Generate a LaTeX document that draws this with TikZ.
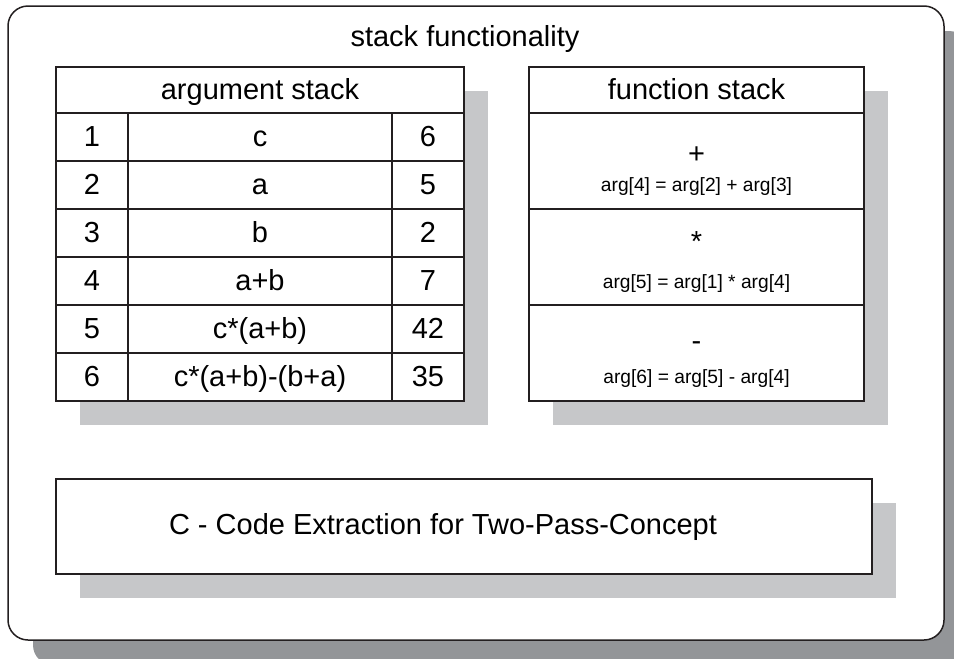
\documentclass[tikz,border=0pt]{standalone}
\usepackage{fontspec}
\setmainfont{Liberation Sans}
\usetikzlibrary{positioning,shadows}

\definecolor{linegray}{HTML}{231F20}
\definecolor{shadowdark}{HTML}{939598}
\definecolor{shadowlight}{HTML}{C6C7C9}

\newcommand{\mainsize}{\fontsize{14.5}{17}\selectfont}
\newcommand{\argsize}{\fontsize{9.6}{11}\selectfont}

\tikzset{basic/.style={draw=linegray,fill=white,line width=0.75pt,inner sep=0pt,outer sep=0pt}}
\tikzset{panel/.style={basic,rounded corners=10pt,minimum width=468pt,minimum height=317pt,drop shadow={shadow xshift=12.5pt,shadow yshift=-12.5pt,fill=shadowdark,opacity=1}}}
\tikzset{stackbox/.style={basic,anchor=north west,drop shadow={shadow xshift=12pt,shadow yshift=-12pt,fill=shadowlight,opacity=1}}}
\tikzset{tabcell/.style={basic,font=\mainsize,text height=13pt,text depth=3.4pt}}
\tikzset{headcell/.style={tabcell,minimum height=23pt}}
\tikzset{numcell/.style={tabcell,minimum width=36pt,minimum height=24pt}}
\tikzset{exprcell/.style={tabcell,minimum width=132pt,minimum height=24pt}}
\tikzset{funccell/.style={basic,minimum width=167.5pt,minimum height=48pt}}
\tikzset{op/.style={font=\mainsize,anchor=base}}
\tikzset{formula/.style={font=\argsize,anchor=base}}

\begin{document}
\begin{tikzpicture}
	\useasboundingbox (0,0) rectangle (477pt,-329.5pt);

	\node[panel,anchor=north west] (outer) at (4pt,-3pt) {};
	\node[font=\mainsize] (title) at (232.5pt,-19.5pt) {stack functionality};

	% argument stack
	\node[stackbox,minimum width=204pt,minimum height=167pt] (astack) at (28pt,-33.5pt) {};
	\node[headcell,minimum width=204pt,below right=0pt and 0pt of astack.north west] (ahead) {argument stack};
	\node[numcell,below right=0pt and 0pt of ahead.south west] (n1) {1};
	    \node[exprcell,right=0pt of n1] (e1) {c};
	    \node[numcell,right=0pt of e1] (v1) {6};
	\node[numcell,below=0pt of n1] (n2) {2};
	    \node[exprcell,right=0pt of n2] (e2) {a};
	    \node[numcell,right=0pt of e2] (v2) {5};
	\node[numcell,below=0pt of n2] (n3) {3};
	    \node[exprcell,right=0pt of n3] (e3) {b};
	    \node[numcell,right=0pt of e3] (v3) {2};
	\node[numcell,below=0pt of n3] (n4) {4};
	    \node[exprcell,right=0pt of n4] (e4) {a+b};
	    \node[numcell,right=0pt of e4] (v4) {7};
	\node[numcell,below=0pt of n4] (n5) {5};
	    \node[exprcell,right=0pt of n5] (e5) {c*(a+b)};
	    \node[numcell,right=0pt of e5] (v5) {42};
	\node[numcell,below=0pt of n5] (n6) {6};
	    \node[exprcell,right=0pt of n6] (e6) {c*(a+b)-(b+a)};
	    \node[numcell,right=0pt of e6] (v6) {35};

	% function stack
	\node[stackbox,minimum width=167.5pt,minimum height=167pt] (fstack) at (264.5pt,-33.5pt) {};
	\node[headcell,minimum width=167.5pt,below right=0pt and 0pt of fstack.north west] (fhead) {function stack};
	\node[funccell,below=0pt of fhead] (f1) {};
	    \node[op] (op1) at ([yshift=-25pt]f1.north) {+};
	    \node[formula] (arg1) at ([yshift=-39pt]f1.north) {arg[4] = arg[2] + arg[3]};
	\node[funccell,below=0pt of f1] (f2) {};
	    \node[op] (op2) at ([yshift=-21pt]f2.north) {*};
	    \node[formula] (arg2) at ([yshift=-39.5pt]f2.north) {arg[5] = arg[1] * arg[4]};
	\node[funccell,below=0pt of f2] (f3) {};
	    \node[op] (op3) at ([yshift=-22.5pt]f3.north) {-};
	    \node[formula] (arg3) at ([yshift=-39pt]f3.north) {arg[6] = arg[5] - arg[4]};

	% code extraction
	\node[stackbox,minimum width=408pt,minimum height=47.5pt] (codex) at (28pt,-239.5pt) {};
	\node[font=\mainsize] (codetext) at ([xshift=-10.5pt]codex.center) {C - Code Extraction for Two-Pass-Concept};

\end{tikzpicture}
\end{document}
